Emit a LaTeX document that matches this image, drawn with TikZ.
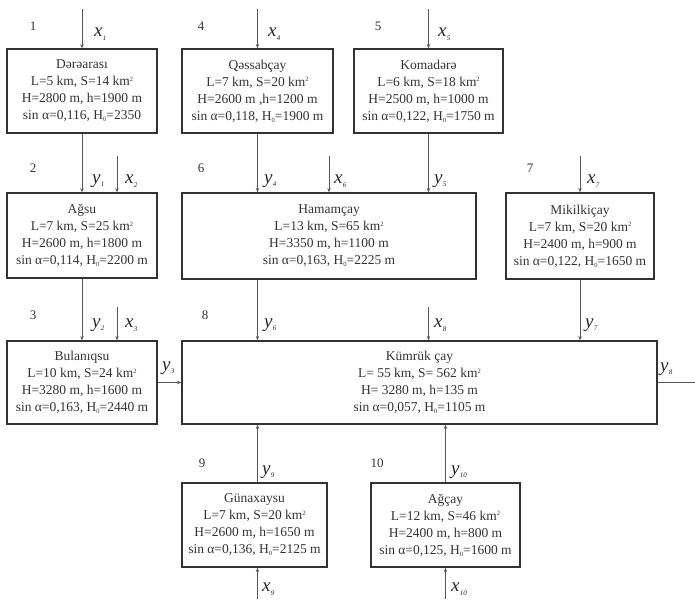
\documentclass[tikz,border=0pt]{standalone}
\usepackage{fontspec}
\setmainfont{Liberation Serif}
\usetikzlibrary{arrows.meta,calc}
\newcommand\vlab[2]{\textit{#1}\kern0.3pt\raisebox{-3.5pt}{\fontsize{7}{7}\selectfont\textit{#2}}}
\newcommand\sqk{\raisebox{4.5pt}{\fontsize{6.5}{6.5}\selectfont 2}}
\newcommand\hz{\raisebox{-2pt}{\fontsize{6.5}{6.5}\selectfont 0}}
\begin{document}
\begin{tikzpicture}[x=1pt,y=-1pt,
 box/.style={draw=black!80, line width=1.2pt, align=center, font=\fontsize{13.5}{17}\selectfont, text=black!80, inner sep=0pt},
 flow/.style={draw=black!65, line width=0.8pt, -{Stealth[length=4.5pt,width=3.5pt]}},
 plainline/.style={draw=black!65, line width=0.8pt},
 num/.style={font=\fontsize{13}{13}\selectfont, text=black!80},
 var/.style={font=\fontsize{19}{19}\selectfont, text=black!85, anchor=west, inner sep=0pt}]
\useasboundingbox (0,0) rectangle (695,599);

% boxes
\node[box, minimum width=150, minimum height=84] (b1) at (82,91)
 {Dərəarası\\L=5 km, S=14 km\sqk\\H=2800 m, h=1900 m\\sin α=0,116, H\hz=2350};
\node[box, minimum width=151, minimum height=84] (b4) at (257.5,91)
 {Qəssabçay\\L=7 km, S=20 km\sqk\\H=2600 m ,h=1200 m\\sin α=0,118, H\hz=1900 m};
\node[box, minimum width=149, minimum height=84] (b5) at (428.5,91)
 {Komadərə\\L=6 km, S=18 km\sqk\\H=2500 m, h=1000 m\\sin α=0,122, H\hz=1750 m};
\node[box, minimum width=150, minimum height=85] (b2) at (82,235.5)
 {Ağsu\\L=7 km, S=25 km\sqk\\H=2600 m, h=1800 m\\sin α=0,114, H\hz=2200 m};
\node[box, minimum width=294, minimum height=86] (b6) at (329,236)
 {Hamamçay\\L=13 km, S=65 km\sqk\\H=3350 m, h=1100 m\\sin α=0,163, H\hz=2225 m};
\node[box, minimum width=148, minimum height=86] (b7) at (580,236)
 {Mikilkiçay\\L=7 km, S=20 km\sqk\\H=2400 m, h=900 m\\sin α=0,122, H\hz=1650 m};
\node[box, minimum width=150, minimum height=83] (b3) at (82,382.5)
 {Bulanıqsu\\L=10 km, S=24 km\sqk\\H=3280 m, h=1600 m\\sin α=0,163, H\hz=2440 m};
\node[box, minimum width=475, minimum height=83] (b8) at (419.5,382.5)
 {Kümrük çay\\L= 55 km, S= 562 km\sqk\\H= 3280 m, h=135 m\\sin α=0,057, H\hz=1105 m};
\node[box, minimum width=145, minimum height=84] (b9) at (254.5,525)
 {Günaxaysu\\L=7 km, S=20 km\sqk\\H=2600 m, h=1650 m\\sin α=0,136, H\hz=2125 m};
\node[box, minimum width=149, minimum height=84] (b10) at (445.5,525)
 {Ağçay\\L=12 km, S=46 km\sqk\\H=2400 m, h=800 m\\sin α=0,125, H\hz=1600 m};

% free ends
\coordinate (i1) at (82,9);
\coordinate (i4) at (257.5,9);
\coordinate (i5) at (428.5,9);
\coordinate (i2) at (117,156);
\coordinate (i6) at (329,156);
\coordinate (i7) at (580,156);
\coordinate (i3) at (117,307);
\coordinate (i8) at (428.5,307);
\coordinate (i9) at (257.5,599);
\coordinate (i10) at (445.5,599);
\coordinate (o8) at (695,382.5);

% connectors
\draw[flow] (i1) -- (b1.north);
\draw[flow] (i4) -- (b4.north);
\draw[flow] (i5) -- (b5.north);
\draw[flow] (b1.south) -- (b2.north);
\draw[flow] (i2) -- (i2 |- b2.north);
\draw[flow] (b4.south) -- (b4.south |- b6.north);
\draw[flow] (i6) -- (b6.north);
\draw[flow] (b5.south) -- (b5.south |- b6.north);
\draw[flow] (i7) -- (b7.north);
\draw[flow] (b2.south) -- (b3.north);
\draw[flow] (i3) -- (i3 |- b3.north);
\draw[flow] (b6.south -| b4) -- (b4 |- b8.north);
\draw[flow] (i8) -- (i8 |- b8.north);
\draw[flow] (b7.south) -- (b7.south |- b8.north);
\draw[flow] (b3.east) -- (b3.east -| b8.west);
\draw[plainline] (b8.east) -- (o8);
\draw[flow] (b9.north -| b4) -- (b4 |- b8.south);
\draw[flow] (b10.north) -- (b10.north |- b8.south);
\draw[flow] (i9) -- (i9 |- b9.south);
\draw[flow] (i10) -- (b10.south);

% variable labels
\node[var] (lx1) at (94,34) {\vlab{x}{1}};
\node[var] (lx4) at (268,34) {\vlab{x}{4}};
\node[var] (lx5) at (438,34) {\vlab{x}{5}};
\node[var] (ly1) at (92,181) {\vlab{y}{1}};
\node[var] (lx2) at (125,181) {\vlab{x}{2}};
\node[var] (ly4) at (264,181) {\vlab{y}{4}};
\node[var] (lx6) at (334,181) {\vlab{x}{6}};
\node[var] (ly5) at (434,181) {\vlab{y}{5}};
\node[var] (lx7) at (587,181) {\vlab{x}{7}};
\node[var] (ly2) at (92,325) {\vlab{y}{2}};
\node[var] (lx3) at (125,325) {\vlab{x}{3}};
\node[var] (ly6) at (264,325) {\vlab{y}{6}};
\node[var] (lx8) at (434,325) {\vlab{x}{8}};
\node[var] (ly7) at (585,325) {\vlab{y}{7}};
\node[var] (ly3) at (162,368) {\vlab{y}{3}};
\node[var] (ly8) at (660,369) {\vlab{y}{8}};
\node[var] (ly9) at (262,472) {\vlab{y}{9}};
\node[var] (ly10) at (451,472) {\vlab{y}{10}};
\node[var] (lx9) at (262,589) {\vlab{x}{9}};
\node[var] (lx10) at (451,589) {\vlab{x}{10}};

% block numbers
\node[num] (n1) at (33,26) {1};
\node[num] (n4) at (201,26) {4};
\node[num] (n5) at (378,26) {5};
\node[num] (n2) at (33,168) {2};
\node[num] (n6) at (201,168) {6};
\node[num] (n7) at (530,168) {7};
\node[num] (n3) at (33,315) {3};
\node[num] (n8) at (205,315) {8};
\node[num] (n9) at (202,463) {9};
\node[num] (n10) at (377,463) {10};
\end{tikzpicture}
\end{document}
